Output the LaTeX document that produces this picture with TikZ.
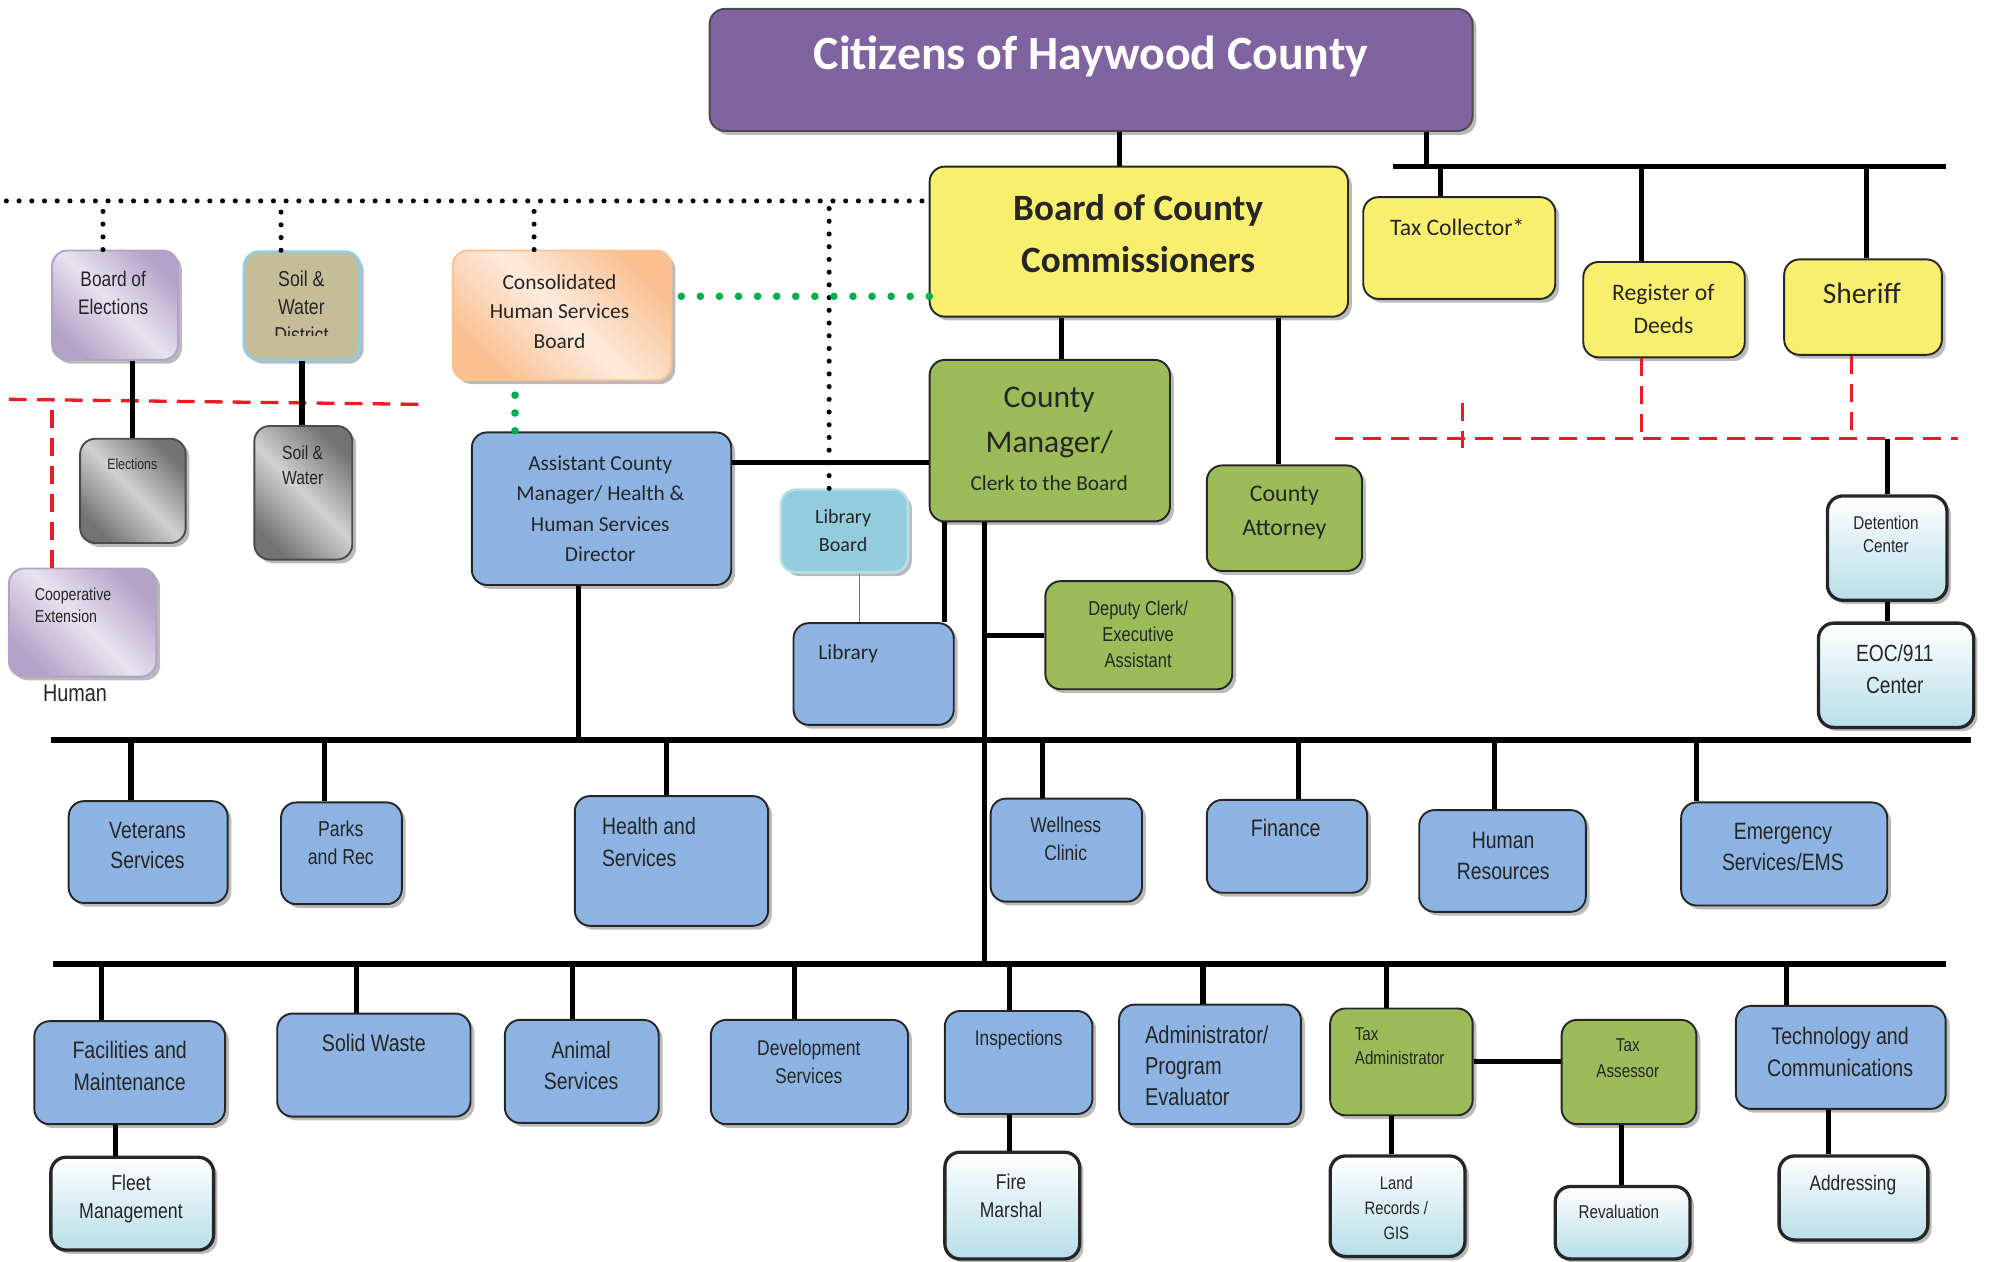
\documentclass[tikz,border=0pt]{standalone}
\usepackage{fontspec}
\setmainfont{Carlito}
\newfontfamily\narrowfont{Liberation Sans}[FakeStretch=0.82]
\usetikzlibrary{fit,shadows}

\definecolor{ttlpurple}{HTML}{8064A2}
\definecolor{brdyellow}{HTML}{F9EF6E}
\definecolor{mgrgreen}{HTML}{9BBB59}
\definecolor{deptblue}{HTML}{8DB3E2}
\definecolor{litecyan}{HTML}{B7DEE8}
\definecolor{libteal}{HTML}{93CDDD}
\definecolor{lavdark}{HTML}{B3A2C7}
\definecolor{lavlight}{HTML}{E8E3F0}
\definecolor{orgdark}{HTML}{FAC090}
\definecolor{orglight}{HTML}{FDEBDD}
\definecolor{soiltan}{HTML}{C4BD97}
\definecolor{dotgreen}{HTML}{00B050}
\definecolor{dashred}{HTML}{ED1C24}
\definecolor{thinblue}{HTML}{4F81BD}

\begin{document}
\begin{tikzpicture}[x=0.5pt,y=-0.5pt,
        box/.style={draw=black!85,line width=0.75pt,rounded corners=6pt,inner sep=0pt,
            drop shadow={shadow xshift=1.5pt,shadow yshift=-1.5pt,opacity=0.45,fill=black!60}},
        blu/.style={box,fill=deptblue},
        grn/.style={box,fill=mgrgreen},
        ylw/.style={box,fill=brdyellow},
        lite/.style={box,line width=1.3pt,top color=white,bottom color=litecyan},
        lav/.style={box,draw=lavdark,top color=lavdark,bottom color=lavdark,middle color=lavlight,shading angle=-45},
        gry/.style={box,draw=black!70,top color=black!55,bottom color=black!55,middle color=black!18,shading angle=-45},
        txt/.style={inner sep=0pt,align=center,text=black!85},
        cal/.style 2 args={txt,font=\fontsize{#1}{#2}\selectfont},
        nar/.style 2 args={txt,font=\narrowfont\fontsize{#1}{#2}\selectfont},
        conn/.style={line width=2pt},
        bus/.style={line width=2.5pt},
        blkdots/.style={line width=2pt,line cap=round,dash pattern=on 0pt off 5pt},
        grndots/.style={draw=dotgreen,line width=3pt,line cap=round,dash pattern=on 0pt off 7.5pt},
        reddash/.style={draw=dashred,line width=1.3pt,dash pattern=on 7pt off 4pt}]

    \useasboundingbox (0,0) rectangle (1568,992);

    % lines that the boxes hang on
    \coordinate (topbusw) at (1095,131);
    \coordinate (topbuse) at (1530,131);
    \coordinate (dotw) at (5,158);
    \coordinate (redw) at (7,314);
    \coordinate (rede) at (335,318);
    \coordinate (red2w) at (1050,345);
    \coordinate (red2e) at (1540,345);
    \coordinate (ticktop) at (1150,317);
    \coordinate (tickbot) at (1150,352);
    \coordinate (bus1w) at (40,582);
    \coordinate (bus1e) at (1550,582);
    \coordinate (bus2w) at (42,758);
    \coordinate (bus2e) at (1530,758);

    % elected
    \node[box,fill=ttlpurple,draw=black!70,fit={(558,7) (1158,103)}] (citizens) {};
    \node[txt,text=white,font=\bfseries\fontsize{18.8}{22}\selectfont] (citizens-t) at (858,44) {Citizens of Haywood County};
    \node[ylw,fit={(731,131) (1060,249)}] (board) {};
    \node[txt,font=\bfseries\fontsize{14.6}{20.5}\selectfont] (board-t) at (895,184) {Board of County\\Commissioners};
    \node[ylw,fit={(1072,155) (1223,235)}] (taxcol) {};
    \node[cal={9.3}{12}] (taxcol-t) at (1146,179) {Tax Collector*};
    \node[ylw,fit={(1245,206) (1372,281)}] (register) {};
    \node[cal={9.3}{13}] (register-t) at (1308,243) {Register of\\Deeds};
    \node[ylw,fit={(1403,204) (1527,279)}] (sheriff) {};
    \node[cal={11.6}{14}] (sheriff-t) at (1464,231) {Sheriff};

    % sheriff
    \node[lite,fit={(1437,390) (1531,472)}] (detention) {};
    \node[nar={7.3}{9}] (detention-t) at (1483,420) {Detention\\Center};
    \node[lite,fit={(1430,490) (1552,572)}] (eoc) {};
    \node[nar={9.2}{12.5}] (eoc-t) at (1490,526) {EOC/911\\Center};

    % manager and staff
    \node[grn,fit={(731,283) (920,410)}] (cm) {};
    \node[cal={12.4}{17.5}] (cm-t) at (825,345) {County\\Manager/\\[-2.5pt]{\fontsize{8.4}{10}\selectfont Clerk to the Board}};
    \node[grn,fit={(949,366) (1071,449)}] (attorney) {};
    \node[cal={9.4}{13.5}] (attorney-t) at (1010,403) {County\\Attorney};
    \node[grn,fit={(822,457) (969,542)}] (deputy) {};
    \node[nar={7.9}{10.25}] (deputy-t) at (895,499) {Deputy Clerk/\\Executive\\Assistant};
    \node[blu,fit={(371,340) (575,460)}] (asst) {};
    \node[cal={8.4}{11.85}] (asst-t) at (472,400) {Assistant County\\Manager/ Health \&\\Human Services\\Director};
    \node[box,draw=orgdark,top color=orgdark,bottom color=orgdark,middle color=orglight,shading angle=-45,fit={(356,197) (528,299)}] (consol) {};
    \node[cal={8.45}{11.75}] (consol-t) at (440,245) {Consolidated\\Human Services\\Board};
    \node[box,fill=libteal,draw=litecyan,line width=1pt,fit={(614,385) (714,450)}] (libboard) {};
    \node[cal={7.9}{11}] (libboard-t) at (663,417) {Library\\Board};
    \node[blu,fit={(624,490) (750,570)}] (library) {};
    \node[cal={8.4}{11}] (library-t) at (667,514) {Library};

    % boards on the left
    \node[lav,fit={(41,197) (140,283)}] (boe) {};
    \node[nar={8.3}{11}] (boe-t) at (89,230) {Board of\\Elections};
    \node[box,fill=soiltan,draw=libteal,line width=1.2pt,fit={(192,198) (283,283)}] (soil) {};
    \begin{scope}
        \clip (192,198) rectangle (283,264);
        \node[nar={8.5}{11}] (soil-t) at (237,241) {Soil \&\\Water\\District};
    \end{scope}
    \node[gry,fit={(63,345) (146,427)}] (elections) {};
    \node[nar={5.9}{8}] (elections-t) at (104,365) {Elections};
    \node[gry,fit={(200,335) (277,440)}] (soilw) {};
    \node[nar={7.5}{10}] (soilw-t) at (238,366) {Soil \&\\Water};
    \node[lav,fit={(7,447) (123,532)}] (coop) {};
    \node[nar={6.8}{9},align=left,anchor=west] (coop-t) at (27,476) {Cooperative\\Extension};
    \node[nar={9.5}{12}] (human-t) at (59,545) {Human};

    % first row of departments
    \node[blu,fit={(54,630) (179,710)}] (veterans) {};
    \node[nar={9.3}{12}] (veterans-t) at (116,665) {Veterans\\Services};
    \node[blu,fit={(221,631) (316,711)}] (parks) {};
    \node[nar={8.5}{11}] (parks-t) at (268,663) {Parks\\and Rec};
    \node[blu,fit={(452,626) (604,728)}] (health) {};
    \node[nar={9.3}{12.5},align=left,anchor=west] (health-t) at (473,662) {Health and\\Services};
    \node[blu,fit={(779,628) (898,709)}] (wellness) {};
    \node[nar={8.4}{11}] (wellness-t) at (838,660) {Wellness\\Clinic};
    \node[blu,fit={(949,629) (1075,702)}] (finance) {};
    \node[nar={9.4}{12}] (finance-t) at (1011,651) {Finance};
    \node[blu,fit={(1116,637) (1247,717)}] (hr) {};
    \node[nar={9.3}{12}] (hr-t) at (1182,673) {Human\\Resources};
    \node[blu,fit={(1322,631) (1484,712)}] (ems) {};
    \node[nar={9.3}{12.5}] (ems-t) at (1402,666) {Emergency\\Services/EMS};

    % second row of departments
    \node[blu,fit={(27,803) (177,884)}] (facilities) {};
    \node[nar={9.4}{12.5}] (facilities-t) at (102,838) {Facilities and\\Maintenance};
    \node[lite,fit={(40,910) (168,983)}] (fleet) {};
    \node[nar={8.5}{11}] (fleet-t) at (103,943) {Fleet\\Management};
    \node[blu,fit={(218,797) (370,878)}] (solid) {};
    \node[nar={9.4}{12}] (solid-t) at (294,820) {Solid Waste};
    \node[blu,fit={(397,802) (518,883)}] (animal) {};
    \node[nar={9.3}{12}] (animal-t) at (457,838) {Animal\\Services};
    \node[blu,fit={(559,802) (714,884)}] (devel) {};
    \node[nar={8.4}{11}] (devel-t) at (636,835) {Development\\Services};
    \node[blu,fit={(743,795) (859,876)}] (inspect) {};
    \node[nar={8.3}{11}] (inspect-t) at (801,818) {Inspections};
    \node[lite,fit={(743,906) (849,990)}] (fire) {};
    \node[nar={8.4}{11}] (fire-t) at (795,940) {Fire\\Marshal};
    \node[blu,fit={(880,790) (1023,884)}] (admin) {};
    \node[nar={9.6}{12.25},align=left,anchor=west] (admin-t) at (900,838) {Administrator/\\Program\\Evaluator};
    \node[grn,fit={(1046,793) (1158,877)}] (taxadm) {};
    \node[nar={7.3}{9.5},align=left,anchor=west] (taxadm-t) at (1065,823) {Tax\\Administrator};
    \node[grn,fit={(1228,802) (1334,884)}] (taxass) {};
    \node[nar={7.3}{10}] (taxass-t) at (1280,832) {Tax\\Assessor};
    \node[lite,fit={(1046,909) (1152,988)}] (land) {};
    \node[nar={7.1}{9.75}] (land-t) at (1098,950) {Land\\Records /\\GIS};
    \node[lite,fit={(1223,933) (1329,990)}] (reval) {};
    \node[nar={7.3}{10}] (reval-t) at (1273,953) {Revaluation};
    \node[blu,fit={(1365,791) (1530,872)}] (tech) {};
    \node[nar={9.4}{12.5}] (tech-t) at (1447,827) {Technology and\\Communications};
    \node[lite,fit={(1399,909) (1516,975)}] (addr) {};
    \node[nar={8.3}{11}] (addr-t) at (1457,932) {Addressing};

    % dotted and dashed ties
    \draw[blkdots] (dotw) -- (dotw -| board.west);
    \draw[blkdots] ([xshift=-4.75pt]boe.north) -- ([xshift=-4.75pt]boe.north |- dotw);
    \draw[blkdots] ([xshift=-8.25pt]soil.north) -- ([xshift=-8.25pt]soil.north |- dotw);
    \draw[blkdots] ([xshift=-11pt]consol.north) -- ([xshift=-11pt]consol.north |- dotw);
    \draw[blkdots] ([xshift=-6pt]libboard.north) -- ([xshift=-6pt]libboard.north |- dotw);
    \draw[grndots,shorten >=-5.5pt] ([xshift=3.5pt,yshift=7.5pt]consol.east) -- ([yshift=7.5pt]consol.east -| board.west);
    \draw[grndots,dash pattern=on 0pt off 7pt,shorten <=5.5pt] ([xshift=-18.5pt]consol.south) -- ([xshift=-18.5pt]consol.south |- asst.north);
    \draw[reddash] (redw) -- (rede);
    \draw[reddash] ([xshift=-12pt]coop.north) -- ([xshift=-12pt]coop.north |- redw);
    \draw[reddash] (red2w) -- (red2e);
    \draw[reddash] (ticktop) -- (tickbot);
    \draw[reddash] ([xshift=-8.75pt]register.south) -- ([xshift=-8.75pt]register.south |- red2w);
    \draw[reddash] ([xshift=-4.5pt]sheriff.south) -- ([xshift=-4.5pt]sheriff.south |- red2w);

    % solid lines
    \draw[conn] ([xshift=11pt]citizens.south) -- ([xshift=11pt]citizens.south |- board.north);
    \draw[conn] ([xshift=-18.5pt]citizens.south east) -- ([xshift=-18.5pt]citizens.south east |- topbusw);
    \draw[conn] (topbusw) -- (topbuse);
    \draw[conn] ([xshift=-7.25pt]taxcol.north) -- ([xshift=-7.25pt]taxcol.north |- topbusw);
    \draw[conn] ([xshift=-8.75pt]register.north) -- ([xshift=-8.75pt]register.north |- topbusw);
    \draw[conn] ([xshift=1.5pt]sheriff.north) -- ([xshift=1.5pt]sheriff.north |- topbusw);
    \draw[conn] (detention.north) -- (detention.north |- red2w);
    \draw[conn] (detention.south) -- (detention.south |- eoc.north);
    \draw[conn] ([xshift=-30.25pt]board.south) -- ([xshift=-30.25pt]board.south |- cm.north);
    \draw[conn] ([xshift=-2.5pt]attorney.north) -- ([xshift=-2.5pt]attorney.north |- board.south);
    \draw[conn] ([yshift=18pt]asst.east) -- ([yshift=18pt]asst.east -| cm.west);
    \draw[conn] ([xshift=6.75pt]boe.south) -- ([xshift=6.75pt]boe.south |- elections.north);
    \draw[conn] (soil.south) -- (soil.south |- soilw.north);
    \coordinate (cmtrunk) at ([xshift=-25.75pt]cm.south);
    \coordinate (cmlib) at ([xshift=-41.25pt]cm.south);
    \draw[conn] (cmtrunk) -- (cmtrunk |- bus2w);
    \draw[conn] (cmlib) -- (cmlib |- library.north);
    \draw[conn] (deputy.west) -- (deputy.west -| cmtrunk);
    \draw[thinblue,line width=0.5pt] ([xshift=6pt]libboard.south) -- ([xshift=6pt]libboard.south |- library.north);
    \draw[conn] ([xshift=-9pt]asst.south) -- ([xshift=-9pt]asst.south |- bus1w);

    \draw[bus] (bus1w) -- (bus1e);
    \draw[conn] ([xshift=-6.75pt]veterans.north) -- ([xshift=-6.75pt]veterans.north |- bus1w);
    \draw[conn] ([xshift=-6.75pt]parks.north) -- ([xshift=-6.75pt]parks.north |- bus1w);
    \draw[conn] ([xshift=-2pt]health.north) -- ([xshift=-2pt]health.north |- bus1w);
    \draw[conn] ([xshift=-9.25pt]wellness.north) -- ([xshift=-9.25pt]wellness.north |- bus1w);
    \draw[conn] ([xshift=4.5pt]finance.north) -- ([xshift=4.5pt]finance.north |- bus1w);
    \draw[conn] ([xshift=-3.25pt]hr.north) -- ([xshift=-3.25pt]hr.north |- bus1w);
    \draw[conn] ([xshift=-34.5pt]ems.north) -- ([xshift=-34.5pt]ems.north |- bus1w);

    \draw[bus] (bus2w) -- (bus2e);
    \draw[conn] ([xshift=-11pt]facilities.north) -- ([xshift=-11pt]facilities.north |- bus2w);
    \draw[conn] ([xshift=-7pt]solid.north) -- ([xshift=-7pt]solid.north |- bus2w);
    \draw[conn] ([xshift=-3.75pt]animal.north) -- ([xshift=-3.75pt]animal.north |- bus2w);
    \draw[conn] ([xshift=-5.75pt]devel.north) -- ([xshift=-5.75pt]devel.north |- bus2w);
    \draw[conn] ([xshift=-3.5pt]inspect.north) -- ([xshift=-3.5pt]inspect.north |- bus2w);
    \draw[conn] ([xshift=-2.75pt]admin.north) -- ([xshift=-2.75pt]admin.north |- bus2w);
    \draw[conn] ([xshift=-6pt]taxadm.north) -- ([xshift=-6pt]taxadm.north |- bus2w);
    \draw[conn] ([xshift=-21.25pt]tech.north) -- ([xshift=-21.25pt]tech.north |- bus2w);
    \draw[conn] ([xshift=-5.5pt]facilities.south) -- ([xshift=-5.5pt]facilities.south |- fleet.north);
    \draw[conn] ([xshift=-3.5pt]inspect.south) -- ([xshift=-3.5pt]inspect.south |- fire.north);
    \draw[conn] (taxadm.east) -- (taxadm.east -| taxass.west);
    \draw[conn] ([xshift=-4pt]taxadm.south) -- ([xshift=-4pt]taxadm.south |- land.north);
    \draw[conn] ([xshift=-3pt]taxass.south) -- ([xshift=-3pt]taxass.south |- reval.north);
    \draw[conn] ([xshift=-4.75pt]tech.south) -- ([xshift=-4.75pt]tech.south |- addr.north);
\end{tikzpicture}
\end{document}
